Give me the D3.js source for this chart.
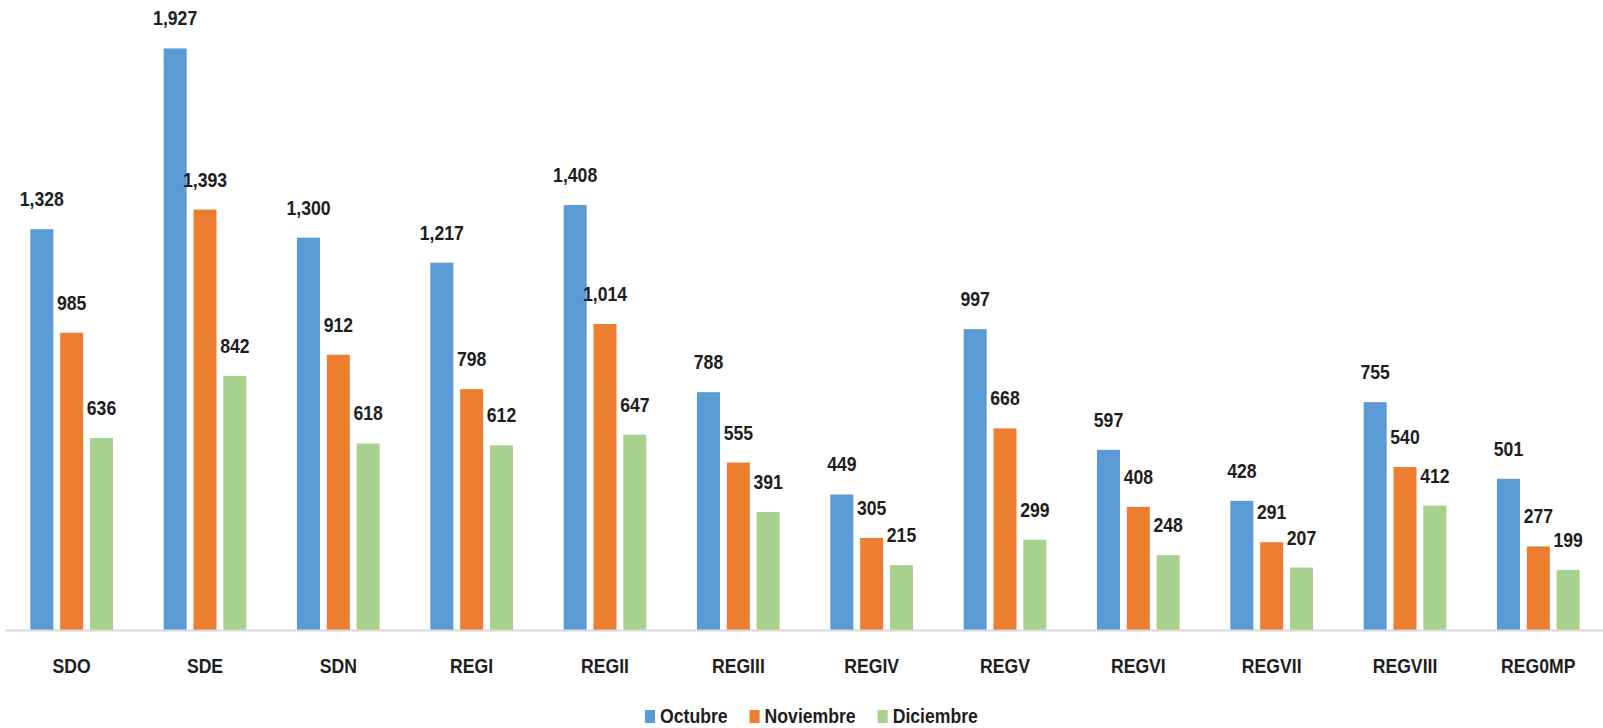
<!DOCTYPE html>
<html>
<head>
<meta charset="utf-8">
<script src="https://cdn.jsdelivr.net/npm/d3@7/dist/d3.min.js"></script>
<style>
  html, body { margin: 0; padding: 0; background: #fff; }
  svg { display: block; }
  text { font-family: "Liberation Sans", Arial, sans-serif; font-weight: bold; fill: #1e1e1e; }
</style>
</head>
<body>
<svg id="chart" width="1603" height="728"></svg>
<script>
const categories = ["SDO", "SDE", "SDN", "REGI", "REGII", "REGIII", "REGIV", "REGV", "REGVI", "REGVII", "REGVIII", "REG0MP"];
const seriesNames = ["Octubre", "Noviembre", "Diciembre"];
const octubre   = [1328, 1927, 1300, 1217, 1408, 788, 449, 997, 597, 428, 755, 501];
const noviembre = [985, 1393, 912, 798, 1014, 555, 305, 668, 408, 291, 540, 277];
const diciembre = [636, 842, 618, 612, 647, 391, 215, 299, 248, 207, 412, 199];
const seriesValues = [octubre, noviembre, diciembre];
const colors = ["#5B9BD5", "#ED7D31", "#A9D18E"];

const SX = 0.84; // horizontal condensing of text
const svg = d3.select("#chart");
const baseY = 630;

const x0 = d3.scaleBand().domain(categories).range([5, 1605]).paddingInner(0.38).paddingOuter(0.19);
const x1 = d3.scaleBand().domain(seriesNames).range([0, x0.bandwidth()]).paddingInner(0.228);
const y = d3.scaleLinear().domain([0, 2000]).range([baseY, 26.4]);
const color = d3.scaleOrdinal().domain(seriesNames).range(colors);

const fmt = d3.format(",");

const rows = categories.map((c, i) => ({ cat: c, vals: seriesNames.map((s, j) => ({ s, v: seriesValues[j][i] })) }));

const groups = svg.append("g").selectAll("g").data(rows).join("g")
  .attr("transform", d => `translate(${x0(d.cat)},0)`);

groups.selectAll("rect").data(d => d.vals).join("rect")
  .attr("x", d => x1(d.s))
  .attr("y", d => y(d.v))
  .attr("width", x1.bandwidth())
  .attr("height", d => baseY - y(d.v))
  .attr("fill", d => color(d.s));

groups.selectAll("text.val").data(d => d.vals).join("text")
  .attr("class", "val")
  .attr("transform", d => `translate(${x1(d.s) + x1.bandwidth() / 2},${y(d.v) - 23}) scale(${SX},1)`)
  .attr("text-anchor", "middle")
  .style("font-size", "21px")
  .text(d => fmt(d.v));

const axis = svg.append("g").attr("transform", `translate(0,${baseY})`)
  .call(d3.axisBottom(x0).tickSize(0).tickSizeOuter(0));
axis.select(".domain").attr("stroke", "#D9D9D9").attr("stroke-width", 2);
axis.selectAll(".tick text")
  .attr("y", 0).attr("dy", 0)
  .attr("transform", `translate(0,43) scale(${SX},1)`)
  .style("font-size", "21px")
  .style("font-family", "\"Liberation Sans\", Arial, sans-serif")
  .style("font-weight", "bold")
  .attr("fill", "#1e1e1e");

// legend
const legend = svg.append("g");
let lx = 645;
seriesNames.forEach((s, i) => {
  legend.append("rect").attr("x", lx).attr("y", 710).attr("width", 10).attr("height", 13).attr("fill", color(s));
  const t = legend.append("text")
    .attr("transform", `translate(${lx + 15},723) scale(${SX},1)`)
    .style("font-size", "21px").text(s);
  const w = t.node().getComputedTextLength() * SX;
  lx = lx + 15 + w + 22;
});
</script>
</body>
</html>
